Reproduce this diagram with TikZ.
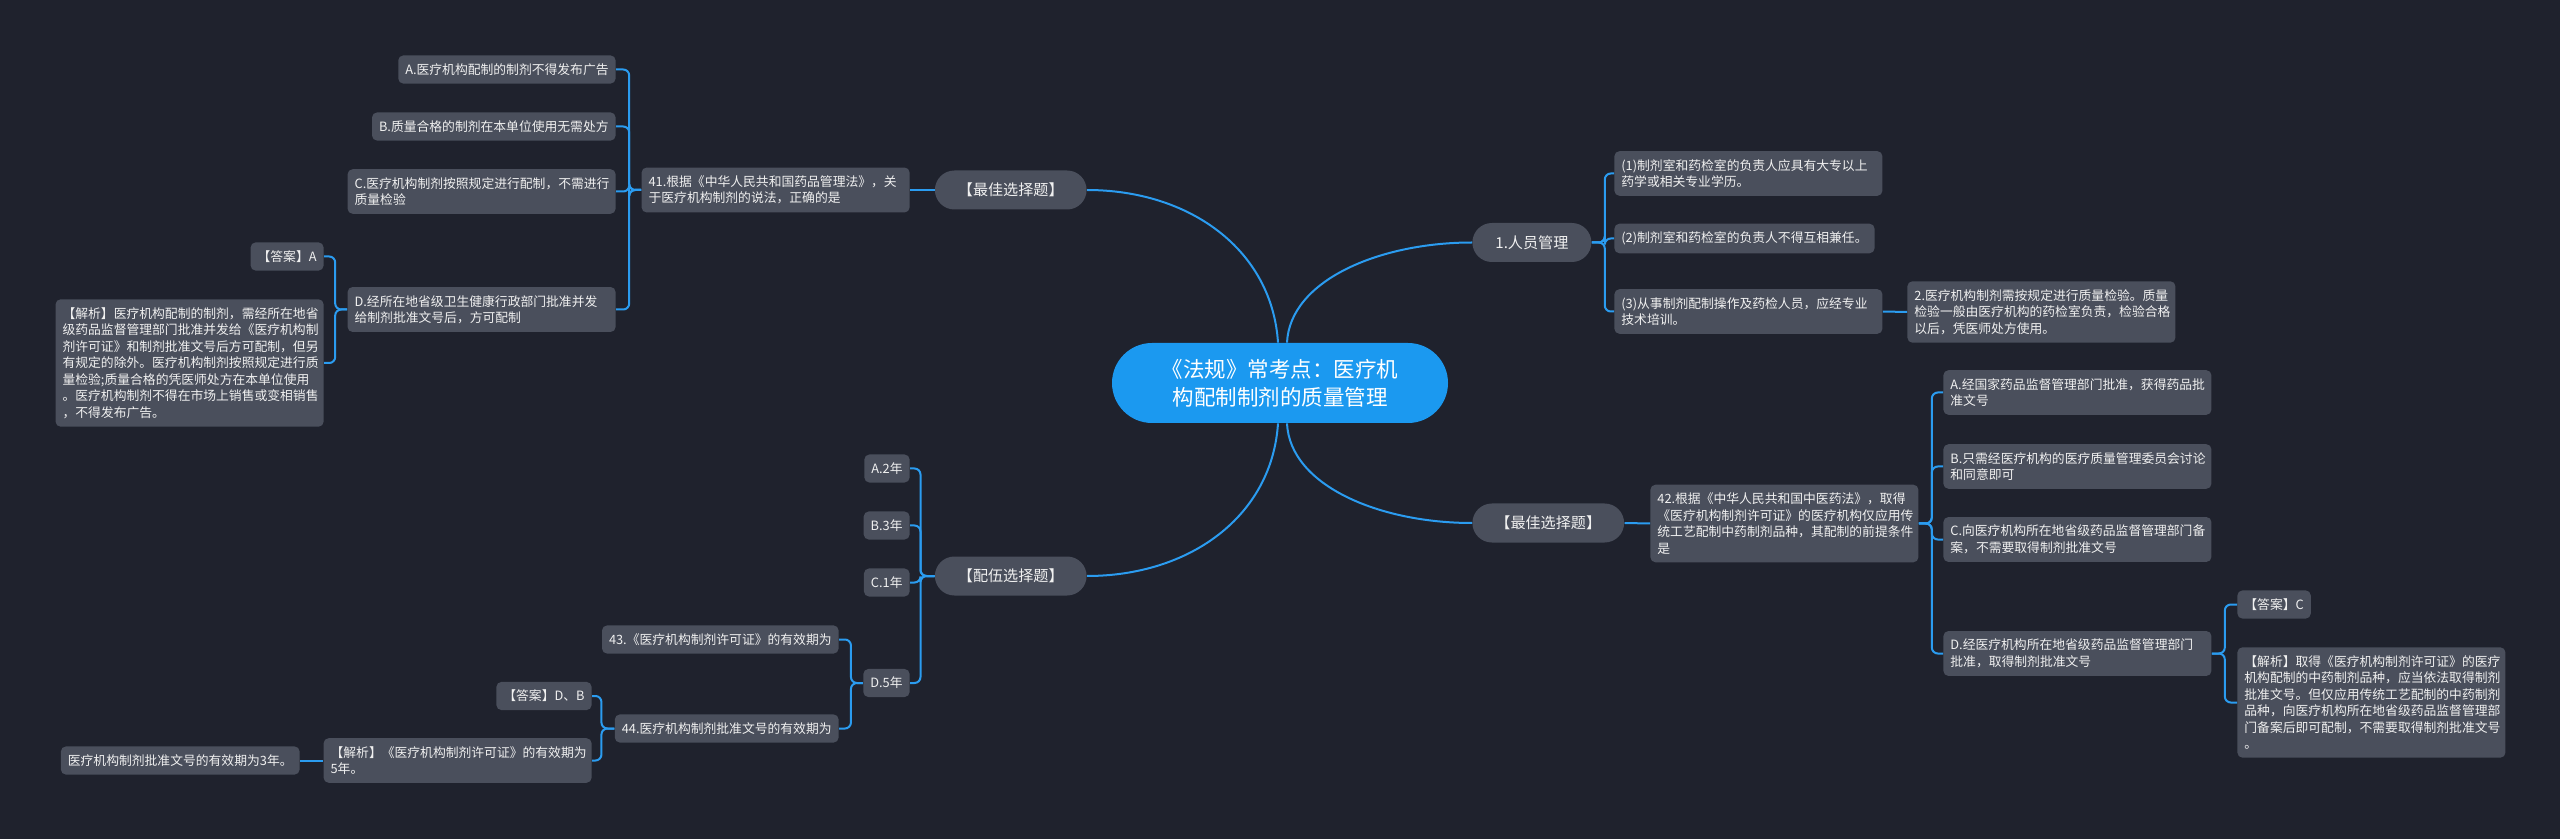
\documentclass[tikz,border=0pt]{standalone}
\usepackage{fontspec}
\setmainfont{Noto Sans CJK SC}
\definecolor{bgdark}{RGB}{31,34,45}
\definecolor{boxgray}{RGB}{74,79,92}
\definecolor{rootblue}{RGB}{27,153,240}
\definecolor{linkblue}{RGB}{43,156,240}
\definecolor{txtwhite}{RGB}{240,240,240}
\tikzset{
  leafbox/.style={fill=boxgray, rounded corners=2.5pt, text=txtwhite, align=left, inner xsep=3.5pt, inner ysep=4.05pt, font=\fontsize{6.4}{8.25}\selectfont},
  wrapbox/.style={leafbox, text width=127pt},
  pillbox/.style={fill=boxgray, rounded corners=9.75pt, text=txtwhite, inner xsep=11.5pt, inner ysep=0pt, minimum height=19.5pt, font=\fontsize{7.55}{9}\selectfont},
  rootbox/.style={fill=rootblue, rounded corners=20pt, text=white, align=center, minimum width=168pt, minimum height=40pt, font=\fontsize{10.75}{14}\selectfont},
  link/.style={draw=linkblue, line width=1pt},
  bracket/.style={link, rounded corners=3pt}
}
\begin{document}
\begin{tikzpicture}[x=0.5pt,y=0.5pt,yscale=-1,xscale=1]
\useasboundingbox (0,0) rectangle (2560,839);
\fill[bgdark] (0,0) rectangle (2560,839);

% Root Node
\node[rootbox] (root) at (1280,383) {《法规》常考点：医疗机\\构配制制剂的质量管理};

% Text Node
\node[pillbox, anchor=east] (bestL) at (1087,190) {【最佳选择题】};
% Text Node
\node[pillbox, anchor=east] (peiwu) at (1087,576) {【配伍选择题】};
% Text Node
\node[pillbox, anchor=west] (renyuan) at (1472,242.5) {1.人员管理};
% Text Node
\node[pillbox, anchor=west] (bestR) at (1472,523) {【最佳选择题】};

% Text Node
\node[wrapbox, anchor=east] (q41) at (910,190) {41.根据《中华人民共和国药品管理法》，关\\于医疗机构制剂的说法，正确的是};
% Text Node
\node[leafbox, anchor=east] (opA41) at (616,69.5) {A.医疗机构配制的制剂不得发布广告};
% Text Node
\node[leafbox, anchor=east] (opB41) at (616,126.5) {B.质量合格的制剂在本单位使用无需处方};
% Text Node
\node[wrapbox, anchor=east] (opC41) at (616,191.5) {C.医疗机构制剂按照规定进行配制，不需进行\\质量检验};
% Text Node
\node[wrapbox, anchor=east] (opD41) at (616,309.5) {D.经所在地省级卫生健康行政部门批准并发\\给制剂批准文号后，方可配制};
% Text Node
\node[leafbox, anchor=east] (ans41) at (324,256.5) {【答案】A};
% Text Node
\node[wrapbox, anchor=east] (exp41) at (324,363) {【解析】医疗机构配制的制剂，需经所在地省\\级药品监督管理部门批准并发给《医疗机构制\\剂许可证》和制剂批准文号后方可配制，但另\\有规定的除外。医疗机构制剂按照规定进行质\\量检验;质量合格的凭医师处方在本单位使用\\。医疗机构制剂不得在市场上销售或变相销售\\，不得发布广告。};

% Text Node
\node[leafbox, anchor=east] (a2) at (910,468.5) {A.2年};
% Text Node
\node[leafbox, anchor=east] (b3) at (910,525.5) {B.3年};
% Text Node
\node[leafbox, anchor=east] (c1) at (910,582.5) {C.1年};
% Text Node
\node[leafbox, anchor=east] (d5) at (910,683) {D.5年};
% Text Node
\node[leafbox, anchor=east] (q43) at (839,639.5) {43.《医疗机构制剂许可证》的有效期为};
% Text Node
\node[leafbox, anchor=east] (q44) at (839,728.5) {44.医疗机构制剂批准文号的有效期为};
% Text Node
\node[leafbox, anchor=east] (ans44) at (592,696) {【答案】D、B};
% Text Node
\node[wrapbox, anchor=east] (exp44) at (592,760.5) {【解析】《医疗机构制剂许可证》的有效期为\\5年。};
% Text Node
\node[leafbox, anchor=east] (exp44b) at (300,760.5) {医疗机构制剂批准文号的有效期为3年。};

% Text Node
\node[wrapbox, anchor=west] (p1) at (1614,173.5) {(1)制剂室和药检室的负责人应具有大专以上\\药学或相关专业学历。};
% Text Node
\node[leafbox, anchor=west] (p2) at (1614,238.5) {(2)制剂室和药检室的负责人不得互相兼任。};
% Text Node
\node[wrapbox, anchor=west] (p3) at (1614,311.5) {(3)从事制剂配制操作及药检人员，应经专业\\技术培训。};
% Text Node
\node[wrapbox, anchor=west] (qc2) at (1907,312) {2.医疗机构制剂需按规定进行质量检验。质量\\检验一般由医疗机构的药检室负责，检验合格\\以后，凭医师处方使用。};

% Text Node
\node[wrapbox, anchor=west] (q42) at (1650,523.5) {42.根据《中华人民共和国中医药法》，取得\\《医疗机构制剂许可证》的医疗机构仅应用传\\统工艺配制中药制剂品种，其配制的前提条件\\是};
% Text Node
\node[wrapbox, anchor=west] (opA42) at (1943,392.5) {A.经国家药品监督管理部门批准，获得药品批\\准文号};
% Text Node
\node[wrapbox, anchor=west] (opB42) at (1943,466.5) {B.只需经医疗机构的医疗质量管理委员会讨论\\和同意即可};
% Text Node
\node[wrapbox, anchor=west] (opC42) at (1943,539.5) {C.向医疗机构所在地省级药品监督管理部门备\\案，不需要取得制剂批准文号};
% Text Node
\node[wrapbox, anchor=west] (opD42) at (1943,653.5) {D.经医疗机构所在地省级药品监督管理部门\\批准，取得制剂批准文号};
% Text Node
\node[leafbox, anchor=west] (ans42) at (2237,604.5) {【答案】C};
% Text Node
\node[wrapbox, anchor=west] (exp42) at (2237,702.5) {【解析】取得《医疗机构制剂许可证》的医疗\\机构配制的中药制剂品种，应当依法取得制剂\\批准文号。但仅应用传统工艺配制的中药制剂\\品种，向医疗机构所在地省级药品监督管理部\\门备案后即可配制，不需要取得制剂批准文号\\。};

%Curve Lines
\draw[link] (bestL.east) .. controls (1190,190) and (1272,250) .. ([xshift=-1pt]root.north);
\draw[link] (peiwu.east) .. controls (1190,576) and (1272,516) .. ([xshift=-1pt]root.south);
\draw[link] ([xshift=3.5pt]root.north) .. controls (1290,280) and (1380,242.5) .. (renyuan.west);
\draw[link] ([xshift=3.5pt]root.south) .. controls (1290,486) and (1380,523) .. (bestR.west);

%Straight Lines
\draw[link] (bestL.west) -- (q41.east);
\draw[link] (bestR.east) -- (q42.west);
\draw[link] (p3.east) -- (qc2.west);
\draw[link] (exp44.west) -- (exp44b.east);

%Bracket Lines
\draw[bracket] (q41.west) -- ++(-12,0) |- (opA41.east);
\draw[bracket] (q41.west) -- ++(-12,0) |- (opB41.east);
\draw[bracket] (q41.west) -- ++(-12,0) |- (opC41.east);
\draw[bracket] (q41.west) -- ++(-12,0) |- (opD41.east);
\draw[bracket] (opD41.west) -- ++(-12,0) |- (ans41.east);
\draw[bracket] (opD41.west) -- ++(-12,0) |- (exp41.east);

\draw[bracket] (peiwu.west) -- ++(-14,0) |- (a2.east);
\draw[bracket] (peiwu.west) -- ++(-14,0) |- (b3.east);
\draw[bracket] (peiwu.west) -- ++(-14,0) |- (c1.east);
\draw[bracket] (peiwu.west) -- ++(-14,0) |- (d5.east);
\draw[bracket] (d5.west) -- ++(-12,0) |- (q43.east);
\draw[bracket] (d5.west) -- ++(-12,0) |- (q44.east);
\draw[bracket] (q44.west) -- ++(-13,0) |- (ans44.east);
\draw[bracket] (q44.west) -- ++(-13,0) |- (exp44.east);

\draw[bracket] (renyuan.east) -- ++(13,0) |- (p1.west);
\draw[bracket] (renyuan.east) -- ++(13,0) |- (p2.west);
\draw[bracket] (renyuan.east) -- ++(13,0) |- (p3.west);

\draw[bracket] (q42.east) -- ++(13,0) |- (opA42.west);
\draw[bracket] (q42.east) -- ++(13,0) |- (opB42.west);
\draw[bracket] (q42.east) -- ++(13,0) |- (opC42.west);
\draw[bracket] (q42.east) -- ++(13,0) |- (opD42.west);
\draw[bracket] (opD42.east) -- ++(13,0) |- (ans42.west);
\draw[bracket] (opD42.east) -- ++(13,0) |- (exp42.west);

\end{tikzpicture}
\end{document}
